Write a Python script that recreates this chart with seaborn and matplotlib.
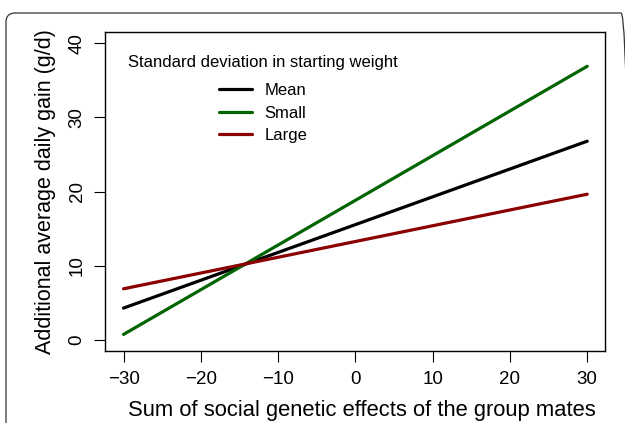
import numpy as np
import pandas as pd
import matplotlib
matplotlib.use("Agg")
import matplotlib.pyplot as plt
import seaborn as sns
from matplotlib.patches import FancyBboxPatch

# values (line end points at x = -30 and x = 30)
groups = ["Mean", "Small", "Large"]
x_ends = [-30, 30]
y_mean = [4.3, 26.8]
y_small = [0.75, 36.9]
y_large = [6.9, 19.65]
colors = ["#000000", "#006400", "#8B0000"]
x_ticks = [-30, -20, -10, 0, 10, 20, 30]
y_ticks = [0, 10, 20, 30, 40]

data = pd.DataFrame({
    "x": x_ends * 3,
    "y": y_mean + y_small + y_large,
    "group": [g for g in groups for _ in x_ends],
})

sns.set_style("ticks")
plt.rcParams["font.family"] = ["Liberation Sans", "DejaVu Sans"]
plt.rcParams["text.color"] = "black"
plt.rcParams["axes.labelcolor"] = "black"
plt.rcParams["xtick.color"] = "black"
plt.rcParams["ytick.color"] = "black"

fig = plt.figure(figsize=(6.25, 4.23), dpi=100)
ax = fig.add_axes([0.168, 0.170, 0.800, 0.754])

sns.lineplot(data=data, x="x", y="y", hue="group", hue_order=groups,
             palette=colors, linewidth=2.3, ax=ax, legend=False)

ax.set_xlim(-32.4, 32.3)
ax.set_ylim(-1.5, 41.5)
ax.set_xticks(x_ticks)
ax.set_yticks(y_ticks)
ax.tick_params(axis="both", direction="out", length=8, width=0.8,
               labelsize=13.5, pad=6)
for lab in ax.get_yticklabels():
    lab.set_rotation(90)
    lab.set_va("center")
for s in ax.spines.values():
    s.set_linewidth(1.0)
    s.set_color("black")

ax.set_xlabel("Sum of social genetic effects of the group mates", fontsize=15.8, labelpad=9)
ax.xaxis.label.set_x(0.514)
ax.set_ylabel("Additional average daily gain (g/d)", fontsize=15.5, labelpad=9)

handles = [plt.Line2D([], [], color=c, linewidth=2.3) for c in colors]
leg = ax.legend(handles, groups, title="Standard deviation in starting weight",
                loc="upper center", bbox_to_anchor=(0.316, 0.975), frameon=False,
                fontsize=12, title_fontsize=12, handlelength=2.0,
                handletextpad=0.75, labelspacing=0.45)
# wider gap between the legend title and its entries
leg._legend_box.sep = 9.5

# rounded outer frame of the journal figure (only top and left sides visible)
frame = FancyBboxPatch((0.06, -2.0), 6.24, 6.10,
                       boxstyle="round,pad=0,rounding_size=0.09",
                       transform=fig.dpi_scale_trans, fill=False,
                       edgecolor="#333333", linewidth=0.9, clip_on=False)
fig.patches.append(frame)

fig.savefig("out.png", dpi=100)
